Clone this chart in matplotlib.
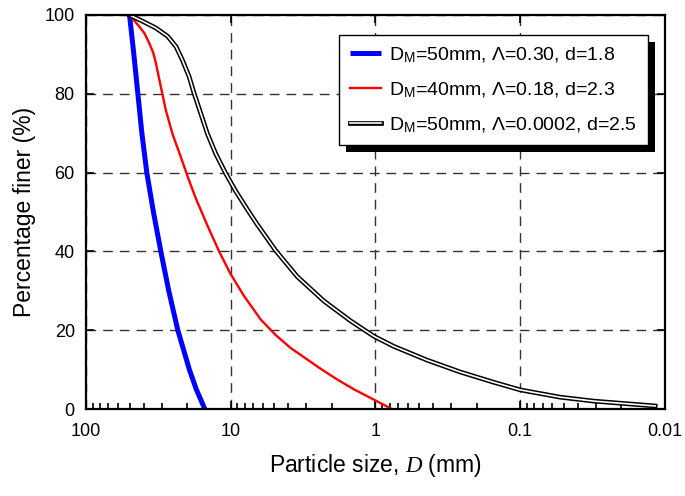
import numpy as np
import matplotlib
matplotlib.use('Agg')
import matplotlib.pyplot as plt
import matplotlib.ticker as mticker
import matplotlib.patheffects as pe
from matplotlib.legend_handler import HandlerTuple

plt.rcParams['font.family'] = 'Liberation Sans'
plt.rcParams['mathtext.fontset'] = 'custom'
plt.rcParams['mathtext.rm'] = 'Liberation Sans'
plt.rcParams['mathtext.it'] = 'Liberation Serif:italic'

# particle size (mm) vs percentage finer
blue_d = [50, 46.7, 43.8, 41.1, 38.0, 34.2, 30.4, 26.8, 23.2, 19.3, 17.3, 15.1]
blue_p = [100, 90, 80, 70, 60, 50, 40, 30, 20, 10, 5, 0]

red_d = [50, 42.9, 39.5, 36.6, 34.3, 32.9, 30.4, 28.1, 25.3, 22.1, 19.4, 17.4, 14.5,
         12.0, 10.0, 8.1, 6.2, 4.9, 3.86, 2.39, 1.84, 1.41, 0.77]
red_p = [100, 97.1, 95.4, 92.9, 90.4, 87.8, 81.8, 75.9, 69.9, 63.9, 58.0, 53.4, 46.6,
         39.9, 34.2, 28.7, 22.7, 18.8, 15.5, 10.2, 7.5, 5, 0]

black_d = [50, 40.6, 32.9, 27.3, 23.9, 21.6, 19.4, 17.9, 16.1, 14.5, 12.7, 10.8, 9.24,
           7.67, 6.55, 4.89, 3.47, 2.27, 1.49, 1.03, 0.748, 0.44, 0.26, 0.153, 0.1,
           0.053, 0.031, 0.0117]
black_p = [100, 98.4, 96.7, 94.6, 92.0, 88.6, 84.4, 80.1, 75.0, 69.9, 64.8, 59.7, 55.3,
           50.6, 46.8, 40.2, 33.6, 27.4, 22.4, 18.5, 15.9, 12.4, 9.4, 6.8, 4.85,
           3.0, 2.0, 0.77]

labels = [r'D$_\mathregular{M}$=50mm, Λ=0.30, d=1.8',
          r'D$_\mathregular{M}$=40mm, Λ=0.18, d=2.3',
          r'D$_\mathregular{M}$=50mm, Λ=0.0002, d=2.5']

xticks = [100, 10, 1, 0.1, 0.01]
yticks = [0, 20, 40, 60, 80, 100]

fig = plt.figure(figsize=(6.85, 4.96), dpi=100)
ax = fig.add_axes([0.1255, 0.1754, 0.8453, 0.7944])

l1, = ax.plot(blue_d, blue_p, color='#0000ff', lw=3.6, solid_capstyle='butt')
l2, = ax.plot(red_d, red_p, color='#ff0000', lw=1.7)
l3a, = ax.plot(black_d, black_p, color='black', lw=3.4)
l3b, = ax.plot(black_d, black_p, color='white', lw=1.2)

ax.set_xscale('log')
ax.set_xlim(100, 0.01)
ax.set_ylim(0, 100)
ax.set_xticks(xticks)
ax.xaxis.set_major_formatter(mticker.FuncFormatter(lambda v, p: '%g' % v))
ax.xaxis.set_minor_locator(mticker.LogLocator(base=10, subs=np.arange(2, 10), numticks=20))
ax.xaxis.set_minor_formatter(mticker.NullFormatter())
ax.set_yticks(yticks)

ax.tick_params(which='major', direction='in', length=6, width=1.2, labelsize=13,
               top=True, right=True)
ax.tick_params(which='minor', direction='in', length=4, width=1.2, top=False)
ax.tick_params(axis='x', pad=10)
ax.tick_params(axis='y', pad=8)

for s in ax.spines.values():
    s.set_linewidth(1.6)

ax.grid(True, which='major', color='#333333', linestyle=(0, (7, 5)), linewidth=1.0)

ax.set_xlabel(r'Particle size, $D$ (mm)', fontsize=16.5, labelpad=9)
ax.set_ylabel('Percentage finer (%)', fontsize=16.5, labelpad=6)

leg = ax.legend([l1, l2, (l3a, l3b)], labels,
                handler_map={tuple: HandlerTuple(ndivide=1)},
                loc='upper right', bbox_to_anchor=(0.9706, 0.95), borderaxespad=0,
                fontsize=14, fancybox=False, framealpha=1, edgecolor='black',
                handlelength=1.6, handletextpad=0.45, labelspacing=0.8,
                borderpad=0.55)
leg.get_frame().set_linewidth(1.0)
leg.legendPatch.set_path_effects([
    pe.SimplePatchShadow(offset=(5, -5), shadow_rgbFace='black', alpha=1),
    pe.Normal()])

plt.savefig('out.png', dpi=100)
